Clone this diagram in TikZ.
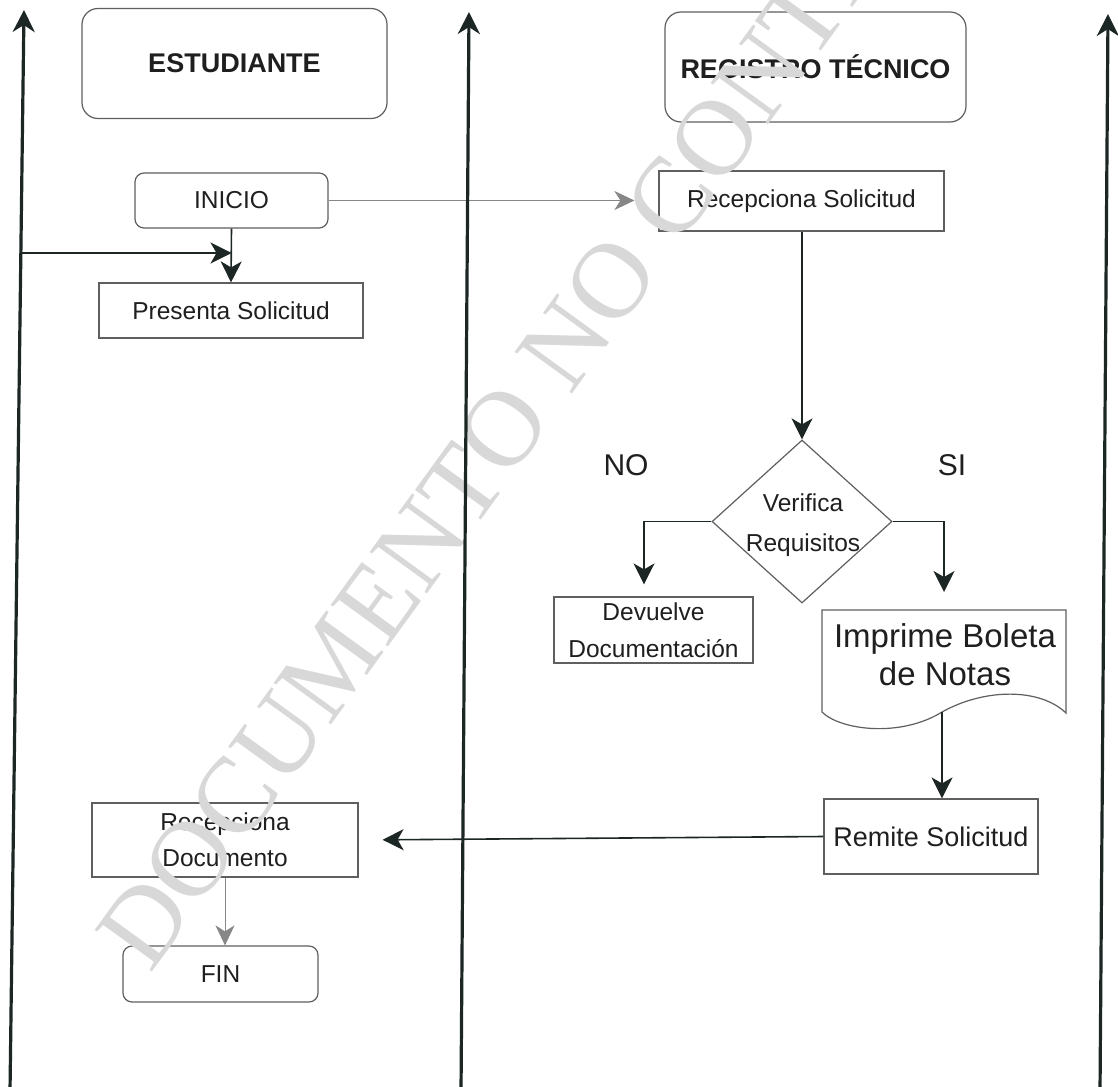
\documentclass[tikz,border=0pt]{standalone}
\usepackage{fontspec}
\setmainfont{Liberation Sans}
\newfontfamily\wmfont{Liberation Serif}
\usetikzlibrary{arrows.meta,shapes.geometric}

\definecolor{ink}{RGB}{28,38,36}
\definecolor{boxline}{RGB}{95,95,95}
\definecolor{soft}{RGB}{135,135,135}
\definecolor{wm}{RGB}{216,216,216}

\tikzset{
  lane/.style={line width=3.2pt, draw=ink, -{Stealth[length=22pt,width=22pt,inset=7pt]}},
  flow/.style={line width=1.6pt, draw=ink, -{Stealth[length=21pt,width=21pt,inset=6pt]}},
  faint/.style={line width=1pt, draw=soft, -{Stealth[length=20pt,width=19pt,inset=6pt]}},
  proc/.style={draw=boxline, line width=1.2pt, fill=white, inner sep=0pt, align=center,
    font=\fontsize{24.5}{36}\selectfont, text=black!88},
  head/.style={proc, rounded corners=16pt, font=\fontsize{27}{32}\bfseries\selectfont},
  term/.style={proc, rounded corners=9pt},
  lbl/.style={inner sep=0pt, font=\fontsize{30}{36}\selectfont, text=black!88},
  shapebox/.style={draw=boxline, line width=1.2pt, fill=white},
  wmtext/.style={inner sep=0pt, text=wm, font=\wmfont\fontsize{108}{108}\selectfont},
}

\begin{document}
\begin{tikzpicture}[x=1pt,y=-1pt]
  \fill[white] (0,0) rectangle (1118,1086);
  \useasboundingbox (0,0) rectangle (1118,1086);

  % lane headers
  \node[head, minimum width=305pt, minimum height=110pt] (est) at (234.5,63.5) {ESTUDIANTE};
  \node[head, minimum width=301pt, minimum height=110pt] (reg) at (815.5,67) {REGISTRO TÉCNICO};

  % student lane
  \node[term, minimum width=193pt, minimum height=55pt] (inicio) at (231.5,200.5) {INICIO};
  \node[proc, minimum width=264pt, minimum height=55pt] (pres) at (231,310.5) {Presenta Solicitud};
  \node[proc, minimum width=266pt, minimum height=74pt] (recdoc) at (225,840) {Recepciona\\Documento};
  \node[term, minimum width=195pt, minimum height=56pt] (fin) at (220.5,974) {FIN};

  % registry lane
  \node[proc, minimum width=285pt, minimum height=60pt] (recsol) at (801.5,201) {Recepciona Solicitud};
  \node[diamond, draw=boxline, line width=1.2pt, fill=white, inner sep=0pt,
        minimum width=180pt, minimum height=163pt] (dia) at (802,521.5) {};
  \node[lbl, align=center, font=\fontsize{24.5}{40}\selectfont] (diatext) at (803,525) {Verifica\\Requisitos};
  \node[lbl] (no) at (626,465) {NO};
  \node[lbl] (si) at (952,465) {SI};
  \node[proc, minimum width=199pt, minimum height=66pt,
        font=\fontsize{24.5}{37}\selectfont] (dev) at (653.5,630) {Devuelve\\Documentación};

  % printed document shape with wavy bottom
  \coordinate (doctl) at (822,610);
  \coordinate (doctr) at (1066,610);
  \coordinate (docbot) at (942,712);
  \filldraw[shapebox] (doctl) -- (doctr) -- (1066,713)
    .. controls (1040,688) and (985,688) .. (docbot)
    .. controls (900,738) and (840,730) .. (822,712) -- cycle;
  \node[lbl, align=center, font=\fontsize{33}{38}\selectfont] (doc) at (945,655) {Imprime Boleta\\de Notas};

  \node[proc, minimum width=214pt, minimum height=75pt,
        font=\fontsize{27}{32}\selectfont] (rem) at (931,836.5) {Remite Solicitud};

  % connectors
  \coordinate (lanein) at (21,253);
  \coordinate (nobend) at (644,521.5);
  \coordinate (sibend) at (944,521.5);

  \draw[faint, shorten >=24pt] (inicio.east) -- (inicio.east -| recsol.west);
  \draw[flow] (inicio.south) -- (pres.north);
  \draw[flow] (lanein) -- (lanein -| inicio.south);
  \draw[flow] (recsol.south -| dia.north) -- (dia.north);
  \draw[flow, shorten >=12pt] (dia.west) -- (nobend) -- (nobend |- dev.north);
  \draw[flow, shorten >=18pt] (dia.east) -- (sibend) -- (sibend |- doctl);
  \draw[flow] (docbot) -- (docbot |- rem.north);
  \draw[flow, shorten >=24pt] (rem.west) -- (recdoc.east);
  \draw[faint] (recdoc.south) -- (recdoc.south |- fin.north);

  % watermark
  \begin{scope}
    \clip (0,0) rectangle (1118,1086);
    \node[wmtext, rotate=54, anchor=base west] (wmark) at (150,975) {DOCUMENTO NO CONTROLADO};
  \end{scope}

  % swimlane dividers
  \coordinate (l1b) at (10,1092);   \coordinate (l1t) at (24,10);
  \coordinate (l2b) at (461,1092);  \coordinate (l2t) at (469,12);
  \coordinate (l3b) at (1100,1092); \coordinate (l3t) at (1108,14);
  \draw[lane] (l1b) -- (l1t);
  \draw[lane] (l2b) -- (l2t);
  \draw[lane] (l3b) -- (l3t);
\end{tikzpicture}
\end{document}
